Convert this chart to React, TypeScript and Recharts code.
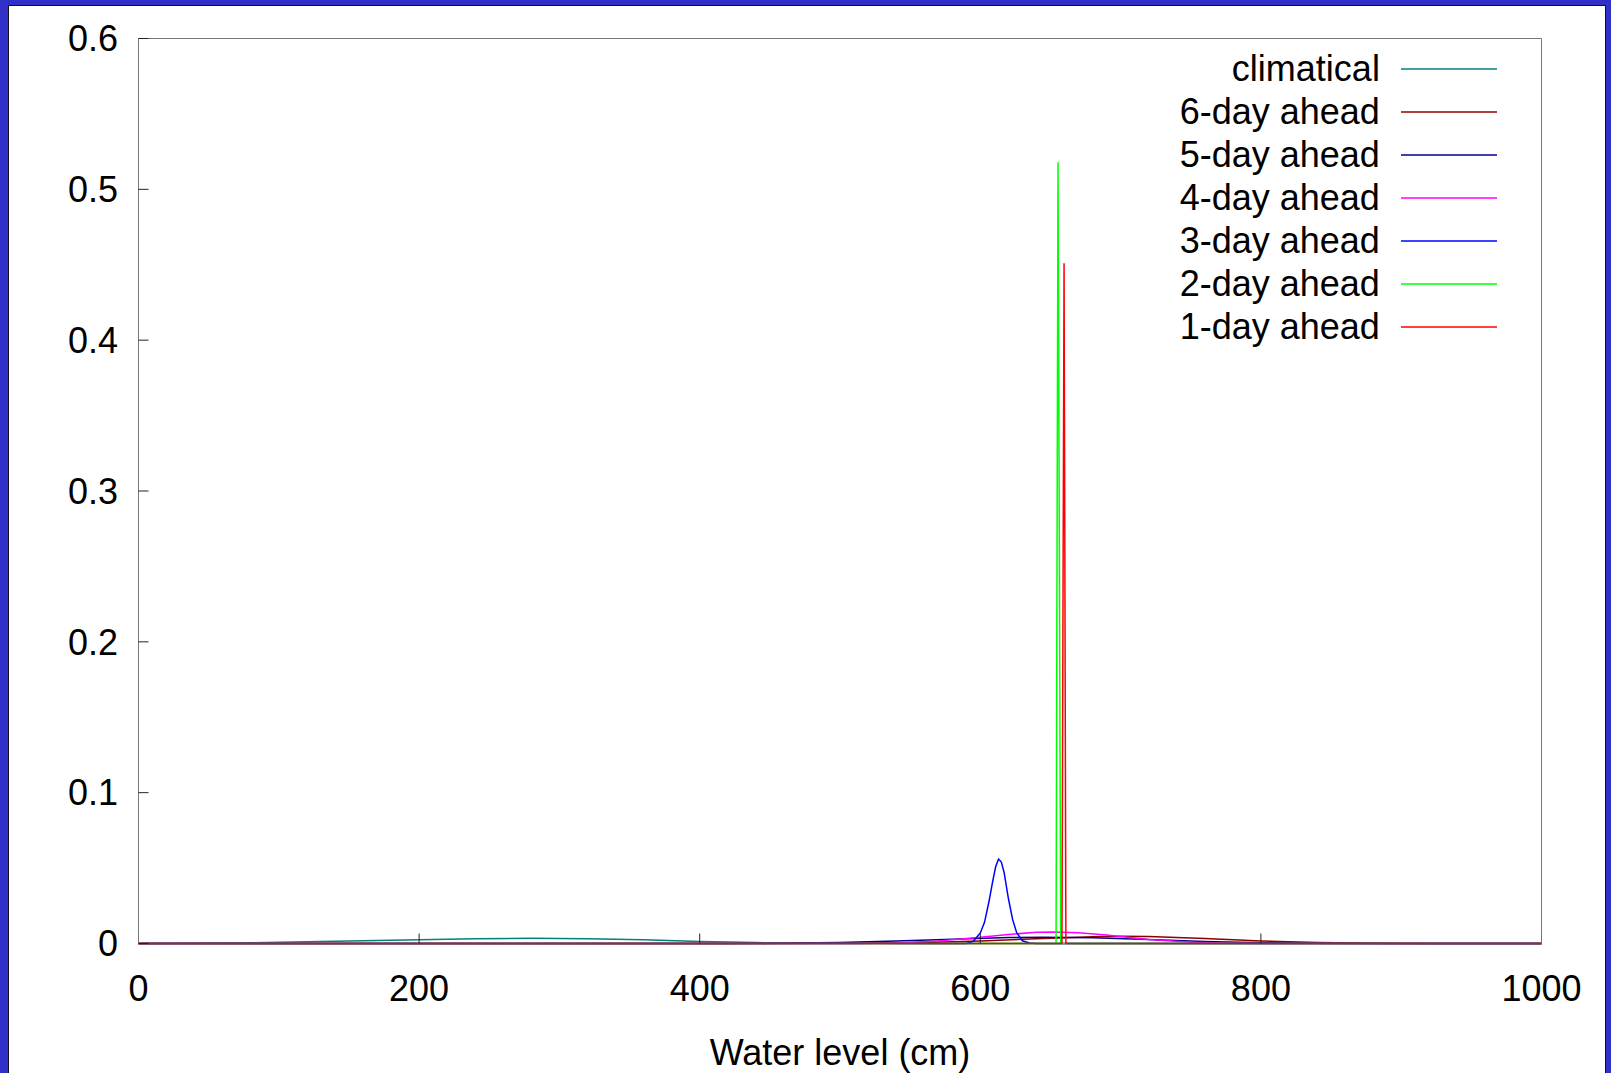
import React from "react";
import {
  Legend,
  Line,
  LineChart,
  XAxis,
  YAxis,
} from "recharts";

// water level (cm) -> probability density
const climatical = [
  [0, 0], [40, 0.0001], [80, 0.0005], [120, 0.0011], [160, 0.0018],
  [200, 0.0025], [240, 0.0031], [280, 0.0034], [320, 0.0032], [360, 0.0025],
  [400, 0.0013], [440, 0.0006], [480, 0.0002], [520, 0.0001], [560, 0], [1000, 0],
];
const sixDay = [
  [0, 0], [440, 0], [480, 0.0001], [520, 0.0002], [560, 0.0007], [600, 0.0017],
  [640, 0.0032], [680, 0.0045], [700, 0.0048], [720, 0.0046], [760, 0.0033],
  [800, 0.0017], [840, 0.0006], [880, 0.0002], [920, 0], [1000, 0],
];
const fiveDay = [
  [0, 0], [420, 0], [450, 0.0001], [500, 0.0006], [540, 0.0016], [580, 0.0029],
  [620, 0.004], [645, 0.0042], [680, 0.0038], [720, 0.0026], [760, 0.0013],
  [800, 0.0005], [840, 0.0001], [880, 0], [1000, 0],
];
const fourDay = [
  [0, 0], [510, 0], [540, 0.0003], [570, 0.0016], [600, 0.0042], [620, 0.006],
  [640, 0.0074], [652, 0.0077], [670, 0.0071], [690, 0.0056], [720, 0.0027],
  [750, 0.0009], [780, 0.0002], [810, 0], [1000, 0],
];
const threeDay = [
  [0, 0], [590, 0], [595, 0.0015], [600, 0.007], [603, 0.014], [606, 0.027],
  [609, 0.042], [611, 0.051], [613, 0.056], [615, 0.054], [617, 0.047],
  [620, 0.03], [623, 0.016], [626, 0.007], [630, 0.0018], [635, 0.0003],
  [640, 0], [1000, 0],
];
const twoDay = [[0, 0], [654, 0], [655.4, 0.518], [657.3, 0], [1000, 0]];
const oneDay = [[0, 0], [658.2, 0], [659.7, 0.451], [661, 0], [1000, 0]];

const xTicks = [0, 200, 400, 600, 800, 1000];
const yTicks = [0, 0.1, 0.2, 0.3, 0.4, 0.5, 0.6];

const series = [
  { name: "climatical", points: climatical, color: "#008080" },
  { name: "6-day ahead", points: sixDay, color: "#8b0000" },
  { name: "5-day ahead", points: fiveDay, color: "#00008b" },
  { name: "4-day ahead", points: fourDay, color: "#ff00ff" },
  { name: "3-day ahead", points: threeDay, color: "#0000ff" },
  { name: "2-day ahead", points: twoDay, color: "#00ff00" },
  { name: "1-day ahead", points: oneDay, color: "#ff0000" },
];
const seriesOrder = series.map((s) => s.name);

const FONT = "'Liberation Sans', Arial, sans-serif";
const tickStyle = { fill: "#000", fontSize: 36, fontFamily: FONT };

const renderLegend = (props: any) => {
  const items = [...(props.payload || [])].sort(
    (a: any, b: any) => seriesOrder.indexOf(a.value) - seriesOrder.indexOf(b.value)
  );
  return (
    <div style={{ fontFamily: FONT, fontSize: 36, color: "#000" }}>
      {items.map((p: any) => (
        <div
          key={p.value}
          style={{ display: "flex", alignItems: "center", height: 43 }}
        >
          <span style={{ width: 282, textAlign: "right", whiteSpace: "nowrap" }}>
            {p.value}
          </span>
          <svg width={120} height={4} style={{ marginLeft: 21 }}>
            <line x1={0} x2={96} y1={2} y2={2} stroke={p.color} strokeWidth={1.5} />
          </svg>
        </div>
      ))}
    </div>
  );
};

export default function App() {
  return (
    <div
      style={{
        position: "absolute",
        left: 0,
        top: 0,
        width: 1611,
        height: 1073,
        background: "#3030c8",
        overflow: "hidden",
      }}
    >
      <div
        style={{
          position: "absolute",
          left: 8,
          top: 5,
          width: 1598,
          height: 1100,
          background: "#fff",
          border: "1px solid #111",
          boxSizing: "border-box",
        }}
      />
      <div style={{ position: "absolute", left: 0, top: 0 }}>
        <LineChart
          width={1611}
          height={1073}
          margin={{ top: 37.5, right: 68.5, left: 0, bottom: 0 }}
        >
          <XAxis
            dataKey="x"
            type="number"
            domain={[0, 1000]}
            ticks={xTicks}
            interval={0}
            height={129.5}
            tickSize={-10}
            tickMargin={41.5}
            tick={tickStyle}
            axisLine={false}
            tickLine={{ stroke: "#222" }}
            label={{
              value: "Water level (cm)",
              position: "insideBottom",
              offset: 8,
              fill: "#000",
              fontSize: 36,
              fontFamily: FONT,
            }}
          />
          <XAxis
            xAxisId="top"
            orientation="top"
            dataKey="x"
            type="number"
            domain={[0, 1000]}
            ticks={xTicks}
            interval={0}
            height={1}
            tickSize={-10}
            tick={false}
            axisLine={{ stroke: "#777" }}
            tickLine={{ stroke: "#222" }}
          />
          <YAxis
            type="number"
            domain={[0, 0.6]}
            ticks={yTicks}
            interval={0}
            width={138.5}
            tickSize={-10}
            tickMargin={30.5}
            tick={tickStyle}
            axisLine={{ stroke: "#777" }}
            tickLine={{ stroke: "#222" }}
          />
          <YAxis
            yAxisId="right"
            orientation="right"
            type="number"
            domain={[0, 0.6]}
            ticks={yTicks}
            interval={0}
            width={1}
            tickSize={-10}
            tick={false}
            axisLine={{ stroke: "#777" }}
            tickLine={{ stroke: "#222" }}
          />
          <Legend
            content={renderLegend}
            layout="horizontal"
            verticalAlign="middle"
            align="center"
            wrapperStyle={{ position: "absolute", top: 47.3, left: 1100, width: 420 }}
          />
          {series.map((s) => (
            <Line
              key={s.name}
              name={s.name}
              data={s.points.map(([x, y]) => ({ x, y }))}
              dataKey="y"
              type="linear"
              stroke={s.color}
              strokeWidth={1.5}
              dot={false}
              activeDot={false}
              isAnimationActive={false}
            />
          ))}
        </LineChart>
      </div>
    </div>
  );
}
